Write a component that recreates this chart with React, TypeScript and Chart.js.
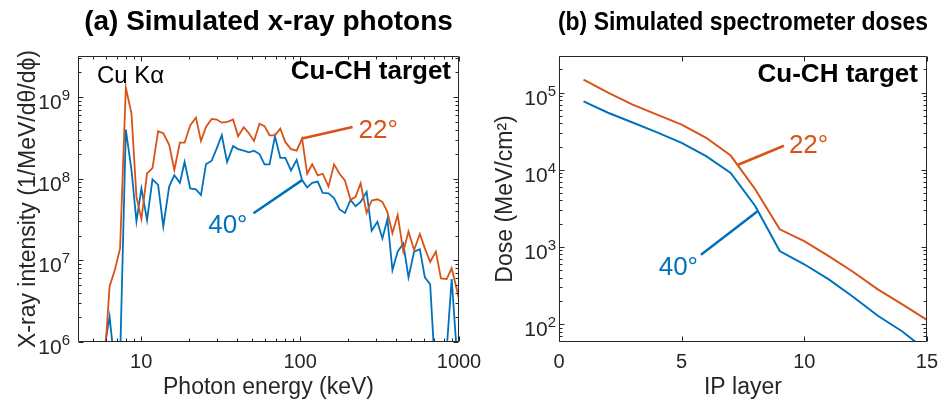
import React, { useEffect, useRef } from 'react';
import { Chart, registerables } from 'chart.js';

Chart.register(...registerables);

const ORANGE = '#D95319';
const BLUE = '#0072BD';
const AXIS = '#262626';
const FONT = '"Liberation Sans", Arial, Helvetica, sans-serif';

// ---------- Panel (a): simulated x-ray photons ----------
const photonEnergyKeV = [
  5.85, 6.32, 6.82, 7.36, 8.0, 8.68, 9.33, 10.03, 10.88, 11.77,
  12.77, 13.77, 14.99, 16.16, 17.51, 18.75, 20.34, 22.1, 23.77, 25.56,
  27.77, 29.87, 32.13, 34.7, 37.86, 40.72, 44.18, 47.64, 51.25, 55.51,
  59.7, 64.22, 69.44, 75.04, 80.69, 87.67, 95.11, 102.9, 110.8, 119.2,
  129.1, 138.8, 150.9, 163.5, 177.0, 191.5, 207.7, 223.4, 240.3, 262.2,
  282.0, 306.4, 329.6, 354.4, 381.1, 411.2, 446.0, 481.0, 521.9, 567.0,
  609.8, 658.5, 715.5, 769.6, 836.1, 899.4, 1000,
];
const photons22deg = [
  5e5, 4.8e6, 7.6e6, 1.4e7, 1.3e9, 6.3e8, 6.0e7, 3.2e7, 1.16e8, 1.35e8,
  3.8e8, 3.6e8, 2.6e8, 1.28e8, 2.76e8, 2.76e8, 4.5e8, 5.6e8, 2.9e8, 4.3e8,
  5.4e8, 5.3e8, 4.85e8, 4.95e8, 5.3e8, 3.3e8, 4.25e8, 3.6e8, 2.9e8, 4.7e8,
  4.4e8, 3.4e8, 3.4e8, 4.1e8, 2.8e8, 2.3e8, 2.2e8, 3.1e8, 1.15e8, 1.5e8,
  1.1e8, 1.15e8, 8.0e7, 1.5e8, 1.15e8, 9.5e7, 5.5e7, 6.0e7, 8.8e7, 3.8e7,
  5.4e7, 5.6e7, 5.2e7, 3.9e7, 2.15e7, 3.6e7, 1.28e7, 2.25e7, 1.34e7, 2.1e7,
  1.4e7, 9.6e6, 1.28e7, 6.0e6, 5.9e6, 8.0e6, 3.4e6,
];
const photons40deg = [
  8e5, 2.05e6, 5e5, 6e5, 4.0e8, 1.28e8, 3.0e7, 7.6e7, 3.1e7, 9.8e7,
  8.4e7, 2.6e7, 8.0e7, 1.1e8, 8.9e7, 1.6e8, 7.6e7, 7.4e7, 6.3e7, 1.5e8,
  1.66e8, 2.35e8, 3.4e8, 1.6e8, 2.5e8, 2.3e8, 2.2e8, 2.1e8, 2.2e8, 2.0e8,
  1.5e8, 1.5e8, 3.3e8, 1.8e8, 1.8e8, 1.26e8, 1.7e8, 9.6e7, 7.8e7, 8.9e7,
  9.2e7, 6.7e7, 6.6e7, 5.8e7, 4.2e7, 3.8e7, 5.5e7, 4.6e7, 5.2e7, 6.9e7,
  2.3e7, 2.96e7, 1.85e7, 3.2e7, 7.6e6, 1.28e7, 1.6e7, 6.2e6, 1.28e7, 1.37e7,
  6.2e6, 5.1e6, 3e5, 3e5, 8e5, 5.9e6, 3e5,
];
const energyTickLabels = [10, 100, 1000];
const intensityDecades = [1e6, 1e7, 1e8, 1e9];

// ---------- Panel (b): simulated spectrometer doses ----------
const ipLayer = [1, 2, 3, 4, 5, 6, 7, 8, 9, 10, 11, 12, 13, 14, 15];
const dose22deg = [1.48e5, 1.0e5, 7.0e4, 5.2e4, 3.85e4, 2.6e4, 1.53e4, 5.6e3, 1.69e3, 1.19e3, 760, 473, 282, 180, 113];
const dose40deg = [7.7e4, 5.5e4, 4.1e4, 3.06e4, 2.24e4, 1.5e4, 9.1e3, 3.4e3, 885, 596, 380, 224, 128, 80, 45];
const layerTickLabels = [0, 5, 10, 15];
const doseDecades = [1e2, 1e3, 1e4, 1e5];

function logMinor(min: number, max: number): number[] {
  const out: number[] = [];
  for (let d = Math.floor(Math.log10(min)); d <= Math.ceil(Math.log10(max)); d++) {
    for (let m = 2; m <= 9; m++) {
      const v = m * Math.pow(10, d);
      if (v > min && v < max) out.push(v);
    }
  }
  return out;
}

function pointOn(chart: any, ds: number, xVal: number) {
  const pts = chart.getDatasetMeta(ds).data;
  const px = chart.scales.x.getPixelForValue(xVal);
  for (let i = 0; i < pts.length - 1; i++) {
    const a = pts[i], b = pts[i + 1];
    if (px >= a.x && px <= b.x) {
      const t = (px - a.x) / (b.x - a.x || 1);
      return { x: px, y: a.y + t * (b.y - a.y) };
    }
  }
  return { x: px, y: pts[0].y };
}

function leader(chart: any, ds: number, fromX: number, toX: number, toY: number, text: string,
  color: string, dx: number, dy: number, align: CanvasTextAlign) {
  const { ctx, scales } = chart;
  const a = pointOn(chart, ds, fromX);
  const bx = scales.x.getPixelForValue(toX);
  const by = scales.y.getPixelForValue(toY);
  ctx.strokeStyle = color;
  ctx.lineWidth = 2.5;
  ctx.beginPath();
  ctx.moveTo(a.x, a.y);
  ctx.lineTo(bx, by);
  ctx.stroke();
  ctx.fillStyle = color;
  ctx.font = `26px ${FONT}`;
  ctx.textAlign = align;
  ctx.textBaseline = 'alphabetic';
  ctx.fillText(text, bx + dx, by + dy);
}

interface PanelOpts {
  title: string;
  titleSize: number;
  titleWidth: number;
  xMajor: number[];
  xMinor: number[];
  yMajor: number[];
  yMinor: number[];
  yLabelGap: number;
  notes: (chart: any) => void;
}

function axesPlugin(o: PanelOpts) {
  return {
    id: 'matlabAxes',
    afterDatasetsDraw(chart: any) {
      const { ctx, chartArea } = chart;
      const { left, right, top, bottom } = chartArea;
      const xs = chart.scales.x;
      const ys = chart.scales.y;
      ctx.save();
      ctx.strokeStyle = AXIS;
      ctx.lineWidth = 1;
      const L = Math.round(left) + 0.5;
      const R = Math.round(right) - 0.5;
      const T = Math.round(top) + 0.5;
      const B = Math.round(bottom) - 0.5;
      ctx.beginPath();
      ctx.rect(L, T, R - L, B - T);
      const MAJ = 5, MIN = 3;
      const vt = (v: number, len: number) => {
        const p = Math.round(xs.getPixelForValue(v)) + 0.5;
        ctx.moveTo(p, B); ctx.lineTo(p, B - len);
        ctx.moveTo(p, T); ctx.lineTo(p, T + len);
      };
      const ht = (v: number, len: number) => {
        const p = Math.round(ys.getPixelForValue(v)) + 0.5;
        ctx.moveTo(L, p); ctx.lineTo(L + len, p);
        ctx.moveTo(R, p); ctx.lineTo(R - len, p);
      };
      o.xMajor.forEach((v) => vt(v, MAJ));
      o.xMinor.forEach((v) => vt(v, MIN));
      o.yMajor.forEach((v) => ht(v, MAJ));
      o.yMinor.forEach((v) => ht(v, MIN));
      ctx.stroke();

      // y tick labels as 10 with superscript exponent
      ctx.fillStyle = AXIS;
      ctx.textAlign = 'left';
      ctx.textBaseline = 'alphabetic';
      o.yMajor.forEach((v) => {
        const py = ys.getPixelForValue(v);
        const exp = String(Math.round(Math.log10(v)));
        ctx.font = `21px ${FONT}`;
        const w10 = ctx.measureText('10').width;
        ctx.font = `15px ${FONT}`;
        const we = ctx.measureText(exp).width;
        const r = left - o.yLabelGap;
        ctx.font = `21px ${FONT}`;
        ctx.fillText('10', r - we - w10, py + 12);
        ctx.font = `15px ${FONT}`;
        ctx.fillText(exp, r - we, py + 3);
      });

      // panel title
      ctx.fillStyle = '#000';
      ctx.font = `bold ${o.titleSize}px ${FONT}`;
      ctx.textAlign = 'center';
      ctx.fillText(o.title, (left + right) / 2, 30, o.titleWidth);

      o.notes(chart);
      ctx.restore();
    },
  };
}

function configA(): any {
  return {
    type: 'line',
    data: {
      datasets: [
        { label: '22°', data: photonEnergyKeV.map((e, i) => ({ x: e, y: photons22deg[i] })), borderColor: ORANGE, borderWidth: 1.8, pointRadius: 0, tension: 0, fill: false },
        { label: '40°', data: photonEnergyKeV.map((e, i) => ({ x: e, y: photons40deg[i] })), borderColor: BLUE, borderWidth: 1.8, pointRadius: 0, tension: 0, fill: false },
      ],
    },
    options: {
      animation: false,
      responsive: false,
      events: [],
      layout: { padding: { left: 0, right: 61, top: 56, bottom: 0 } },
      plugins: { legend: { display: false }, tooltip: { enabled: false }, title: { display: false } },
      scales: {
        x: {
          type: 'logarithmic', min: 4, max: 1000,
          grid: { display: false, drawTicks: false }, border: { display: false },
          afterBuildTicks: (s: any) => { s.ticks = energyTickLabels.map((v) => ({ value: v })); },
          ticks: { autoSkip: false, maxRotation: 0, padding: 8, color: AXIS, font: { family: FONT, size: 20 }, callback: (v: any) => String(v) },
          title: { display: true, text: 'Photon energy (keV)', color: AXIS, font: { family: FONT, size: 23 }, padding: { top: 0, bottom: 4 } },
          afterFit: (s: any) => { s.height = 63; },
        },
        y: {
          type: 'logarithmic', min: 1e6, max: 3.18e9,
          grid: { display: false, drawTicks: false }, border: { display: false },
          ticks: { display: false },
          title: { display: true, text: 'X-ray intensity (1/MeV/dθ/dϕ)', color: AXIS, font: { family: FONT, size: 23 }, padding: { top: 15, bottom: 0 } },
          afterFit: (s: any) => { s.width = 78; },
        },
      },
    },
    plugins: [
      axesPlugin({
        title: '(a) Simulated x-ray photons',
        titleSize: 28,
        titleWidth: 372,
        xMajor: energyTickLabels,
        xMinor: logMinor(4, 1000),
        yMajor: intensityDecades,
        yMinor: logMinor(1e6, 3.18e9),
        yLabelGap: 8,
        notes: (chart: any) => {
          const { ctx, chartArea } = chart;
          ctx.fillStyle = '#000';
          ctx.textBaseline = 'alphabetic';
          ctx.font = `24px ${FONT}`;
          ctx.textAlign = 'left';
          ctx.fillText('Cu Kα', chartArea.left + 19, chartArea.top + 27);
          ctx.font = `bold 26px ${FONT}`;
          ctx.textAlign = 'right';
          ctx.fillText('Cu-CH target', chartArea.right - 8, chartArea.top + 23);
          leader(chart, 0, 102.9, 213.9, 4.3e8, '22°', ORANGE, 6, 11, 'left');
          leader(chart, 1, 102.9, 50.9, 3.77e7, '40°', BLUE, -6, 20, 'right');
        },
      }),
    ],
  };
}

function configB(): any {
  return {
    type: 'line',
    data: {
      datasets: [
        { label: '22°', data: ipLayer.map((l, i) => ({ x: l, y: dose22deg[i] })), borderColor: ORANGE, borderWidth: 2, pointRadius: 0, tension: 0, fill: false },
        { label: '40°', data: ipLayer.map((l, i) => ({ x: l, y: dose40deg[i] })), borderColor: BLUE, borderWidth: 2, pointRadius: 0, tension: 0, fill: false },
      ],
    },
    options: {
      animation: false,
      responsive: false,
      events: [],
      layout: { padding: { left: 0, right: 14, top: 56, bottom: 0 } },
      plugins: { legend: { display: false }, tooltip: { enabled: false }, title: { display: false } },
      scales: {
        x: {
          type: 'linear', min: 0, max: 15,
          grid: { display: false, drawTicks: false }, border: { display: false },
          afterBuildTicks: (s: any) => { s.ticks = layerTickLabels.map((v) => ({ value: v })); },
          ticks: { autoSkip: false, maxRotation: 0, padding: 8, color: AXIS, font: { family: FONT, size: 20 }, callback: (v: any) => String(v) },
          title: { display: true, text: 'IP layer', color: AXIS, font: { family: FONT, size: 23 }, padding: { top: 0, bottom: 4 } },
          afterFit: (s: any) => { s.height = 63; },
        },
        y: {
          type: 'logarithmic', min: 58.5, max: 2.99e5,
          grid: { display: false, drawTicks: false }, border: { display: false },
          ticks: { display: false },
          title: { display: true, text: 'Dose (MeV/cm²)', color: AXIS, font: { family: FONT, size: 23 }, padding: { top: 19, bottom: 0 } },
          afterFit: (s: any) => { s.width = 86; },
        },
      },
    },
    plugins: [
      axesPlugin({
        title: '(b) Simulated spectrometer doses',
        titleSize: 26,
        titleWidth: 370,
        xMajor: layerTickLabels,
        xMinor: [],
        yMajor: doseDecades,
        yMinor: logMinor(58.5, 2.99e5),
        yLabelGap: 3,
        notes: (chart: any) => {
          const { ctx, chartArea } = chart;
          ctx.fillStyle = '#000';
          ctx.textBaseline = 'alphabetic';
          ctx.font = `bold 26px ${FONT}`;
          ctx.textAlign = 'right';
          ctx.fillText('Cu-CH target', chartArea.right - 9, chartArea.top + 26);
          leader(chart, 0, 7.28, 9.17, 2.05e4, '22°', ORANGE, 5, 7, 'left');
          leader(chart, 1, 8.11, 5.79, 793, '40°', BLUE, -3, 20, 'right');
        },
      }),
    ],
  };
}

export default function App() {
  const refA = useRef<HTMLCanvasElement>(null);
  const refB = useRef<HTMLCanvasElement>(null);
  useEffect(() => {
    const a = new Chart(refA.current as HTMLCanvasElement, configA());
    const b = new Chart(refB.current as HTMLCanvasElement, configB());
    return () => {
      a.destroy();
      b.destroy();
    };
  }, []);
  return (
    <div style={{ position: 'fixed', left: 0, top: 0, width: 946, height: 405, background: '#fff', overflow: 'hidden' }}>
      <canvas ref={refA} width={520} height={405} style={{ position: 'absolute', left: 0, top: 0, width: 520, height: 405 }} />
      <canvas ref={refB} width={473} height={405} style={{ position: 'absolute', left: 473, top: 0, width: 473, height: 405 }} />
    </div>
  );
}
